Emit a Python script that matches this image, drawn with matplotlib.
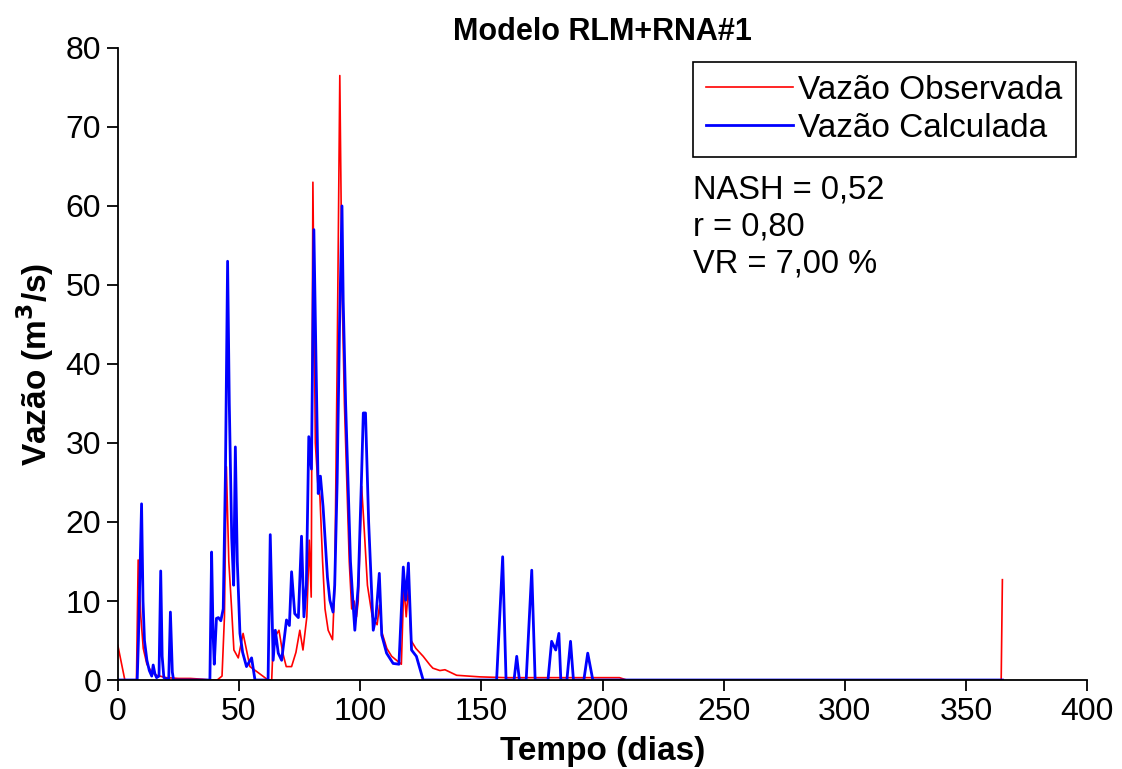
import matplotlib
matplotlib.use("Agg")
import matplotlib.pyplot as plt

plt.rcParams['font.family'] = ['Liberation Sans', 'DejaVu Sans']

# dias / vazao observada
obs_dias = [0, 2.9, 7.7, 8.4, 9.5, 10.5, 12, 14, 16, 20, 25, 30, 35, 38, 41, 43,
            44, 44.8, 45.8, 46.9, 47.9, 49.7, 51.7, 54.5, 57.2, 60.7, 62, 63.5,
            64.3, 65.5, 66.5, 68, 69.5, 71.7, 73.5, 75.1, 76.4, 78, 79, 79.8,
            80.5, 81.5, 82.5, 83.4, 84.5, 85.5, 86.8, 88.6, 89.5, 90.5, 91.6,
            92.5, 93.5, 94.5, 95.5, 96.5, 97.5, 98.5, 99.2, 100.6, 101.5, 103,
            105, 107, 108, 109, 111, 113, 115, 117, 118, 119, 120, 121, 123,
            124.5, 126, 128.8, 130, 132.9, 135, 139.8, 149.4, 160, 180, 200,
            207, 210, 364.5, 365]
obs_vazao = [4.4, 0, 0, 15.2, 8, 4, 2, 1, 0.6, 0.3, 0.2, 0.2, 0.1, 0, 0, 0.5,
             8, 27, 15, 9.3, 3.8, 2.8, 5.9, 1.7, 1.1, 0.3, 0, 0,
             6.3, 5.8, 6.3, 3.5, 1.7, 1.7, 3.5, 6.3, 3.8, 8, 17.7, 10.5,
             63, 30, 25, 23.2, 15, 9, 6.3, 5.1, 12, 40, 76.5,
             50, 35, 25, 15, 9, 10, 8, 10, 24.5, 20, 12,
             8, 7, 9.5, 6, 4, 3, 2.5, 2, 12, 8, 12, 5, 4,
             3.5, 3, 1.9, 1.5, 1.2, 1.3, 0.6, 0.4, 0.3, 0.3, 0.3,
             0.3, 0, 0, 12.7]

# dias / vazao calculada
calc_dias = [0, 8, 8.5, 9.8, 10.4, 11, 12, 13, 14, 14.6, 15.3, 16, 17, 17.7,
             18.3, 19, 21, 21.7, 22.5, 23, 38, 38.7, 39.3, 39.8, 40.7, 41.5,
             42.5, 43.5, 44.4, 45.3, 46, 47, 47.8, 48.5, 49.3, 50.4, 51.5,
             53.1, 55.2, 56.6, 62, 62.9, 64.1, 65, 66.2, 67.6, 69.6, 70.8,
             71.7, 73, 74.5, 75.8, 76.8, 77.8, 78.8, 79.9, 80.9, 81.8, 82.7,
             83.6, 84.7, 85.5, 86.5, 87.5, 88.8, 89.5, 90.5, 91.5, 92.5, 93,
             94, 95, 96, 97, 97.8, 99.2, 100.5, 101.3, 102.2, 103.5, 105.4,
             106.5, 107.9, 108.9, 110.9, 113.6, 116, 117.8, 118.8, 119.9,
             121.2, 123.2, 126, 156.3, 158.8, 160.2, 163.5, 164.6, 165.7,
             168.5, 170.8, 172.2, 177.5, 179, 180.7, 182, 182.8, 185.3,
             186.8, 188, 192.3, 193.9, 196, 365]
calc_vazao = [0, 0, 5, 22.3, 10, 5, 2.5, 1.2, 0.5, 1.9, 0.8, 0.3, 0.5, 13.8,
              3, 0.3, 0, 8.6, 1, 0, 0, 16.2, 6, 2, 7.8, 7.9,
              7.5, 9, 26, 53, 35, 18, 12, 29.5, 15, 5.9, 3.5,
              1.7, 2.8, 0, 0, 18.4, 2.5, 6.3, 3.4, 2.5, 7.6, 6.9,
              13.7, 8.4, 7.9, 18.2, 8, 12, 30.8, 26.7, 57, 40, 23.6,
              25.8, 21.9, 18, 13, 10.1, 8.6, 12, 25, 45, 60, 48,
              35, 25, 15, 10, 6.3, 11.9, 25, 33.8, 33.8, 20, 6.3,
              8, 13.5, 5.7, 3.4, 2.1, 2.0, 14.3, 10.1, 14.8,
              3.8, 3.0, 0, 0, 15.6, 0, 0, 3, 0,
              0, 13.9, 0, 0, 4.9, 3.8, 5.9, 0, 0,
              4.9, 0, 0, 3.4, 0, 0]

fig = plt.figure(figsize=(11.22, 7.69), dpi=100)
ax = fig.add_axes([0.105, 0.1157, 0.864, 0.822])

ax.plot(obs_dias, obs_vazao, color='#ff0000', lw=1.2, label='Vazão Observada')
ax.plot(calc_dias, calc_vazao, color='#0000ff', lw=2.0, label='Vazão Calculada')

ax.set_xlim(0, 400)
ax.set_ylim(0, 80)
ax.set_xticks(range(0, 401, 50))
ax.set_yticks(range(0, 81, 10))
ax.spines['top'].set_visible(False)
ax.spines['right'].set_visible(False)
for s in ['left', 'bottom']:
    ax.spines[s].set_linewidth(1.3)
ax.tick_params(direction='out', length=8, width=1.3, labelsize=23, pad=4)

ax.set_xlabel('Tempo (dias)', fontsize=24, fontweight='bold', labelpad=7)
ax.set_ylabel('Vazão (m$^\\mathbf{3}$/s)', fontsize=24, fontweight='bold', labelpad=7)
ax.set_title('Modelo RLM+RNA#1', fontsize=22, fontweight='bold', pad=6)

leg = ax.legend(loc='upper right', bbox_to_anchor=(0.988, 0.978), fontsize=24,
                frameon=True, fancybox=False, framealpha=1, borderpad=0.4,
                handlelength=2.6, handletextpad=0.15, labelspacing=0.2,
                borderaxespad=0)
leg.get_frame().set_edgecolor('black')
leg.get_frame().set_linewidth(1.2)

ax.text(0.593, 0.8, 'NASH = 0,52\nr = 0,80\nVR = 7,00 %', transform=ax.transAxes,
        fontsize=23.5, va='top', ha='left', linespacing=1.25)

fig.savefig('out.png', dpi=100)
